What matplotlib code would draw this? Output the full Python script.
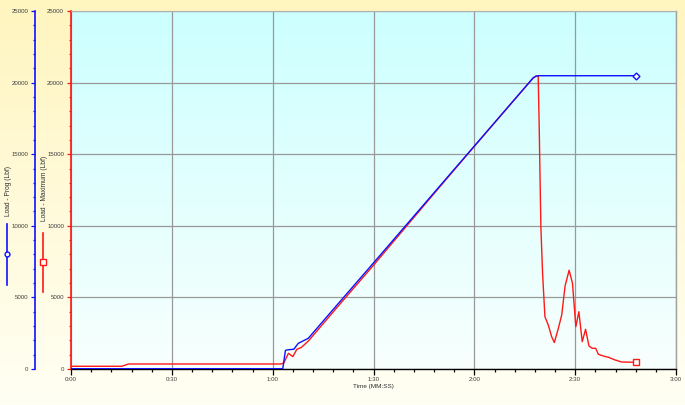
import matplotlib
matplotlib.use('Agg')
import matplotlib.pyplot as plt
import numpy as np
from matplotlib.colors import LinearSegmentedColormap
from matplotlib.ticker import MultipleLocator, FixedLocator, FixedFormatter
from matplotlib.lines import Line2D

plt.rcParams['font.family'] = ['Liberation Sans', 'DejaVu Sans']

# time in seconds, load in lbf
prog_t = [0, 63.0, 63.8, 64.5, 66.3, 67.6, 70.6, 80.0, 89.9, 99.9, 110.0,
          119.2, 127.8, 136.4, 137.5, 138.3, 139.0, 168.1]
prog_load = [20, 20, 1300, 1340, 1380, 1790, 2144, 4700, 7380, 10100, 12850,
             15350, 17690, 20030, 20330, 20450, 20480, 20480]

max_t = [0, 15.1, 17.1, 62.5, 63.3, 64.7, 66.0, 67.2, 68.5, 70.6, 80.0,
         89.9, 99.9, 110.0, 119.2, 127.8, 136.4, 137.5, 138.3, 139.0,
         139.3, 139.8, 140.3, 141.0, 142.0, 143.0, 143.8, 145.0, 146.0, 147.0,
         148.2, 149.2, 150.2, 151.1, 152.1, 153.1, 154.1, 155.1, 156.1, 156.9,
         158.4, 159.9, 161.9, 163.8, 168.0]
max_load = [190, 190, 350, 350, 420, 1096, 860, 1375, 1500, 1950, 4530,
            7220, 10000, 12800, 15330, 17680, 20020, 20320, 20440, 20470,
            16900, 9900, 6700, 3650, 3073, 2256, 1850, 2842, 3771, 5800,
            6900, 5985, 2954, 4001, 1907, 2772, 1606, 1446, 1446, 1027,
            908, 817, 628, 489, 468]

x_ticks = [0, 30, 60, 90, 120, 150, 180]
x_tick_labels = ['0:00', '0:30', '1:00', '1:30', '2:00', '2:30', '3:00']
y_ticks = [0, 5000, 10000, 15000, 20000, 25000]

BLUE = '#1010ff'
RED = '#ff1818'
W, H = 685, 405

fig = plt.figure(figsize=(W / 100, H / 100), dpi=100)

# figure background gradient (yellow)
bg = fig.add_axes([0, 0, 1, 1], zorder=-10)
bg_cmap = LinearSegmentedColormap.from_list('bg', ['#fff5bf', '#fffff4'])
bg.imshow(np.linspace(0, 1, 256).reshape(-1, 1), cmap=bg_cmap, aspect='auto',
          extent=[0, 1, 0, 1])
bg.set_axis_off()

left, right, top, bottom = 71, 676, 11, 369
ax = fig.add_axes([left / W, (H - bottom) / H, (right - left) / W, (bottom - top) / H])
ax.set_xlim(0, 180)
ax.set_ylim(0, 25000)

# plot area gradient (cyan)
pa_cmap = LinearSegmentedColormap.from_list('pa', ['#ccffff', '#f8fffd'])
ax.imshow(np.linspace(0, 1, 256).reshape(-1, 1), cmap=pa_cmap, aspect='auto',
          extent=[0, 180, 0, 25000], zorder=0)

ax.grid(True, which='major', color='#999999', linewidth=0.9, zorder=1)
ax.set_axisbelow(True)

ax.plot(max_t, max_load, color=RED, linewidth=1.0, zorder=4)
ax.plot(max_t[-1:], max_load[-1:], marker='s', markersize=4, mfc='white',
        mec=RED, mew=1.0, linestyle='none', zorder=5)

# x axis
ax.xaxis.set_major_locator(FixedLocator(x_ticks))
ax.xaxis.set_major_formatter(FixedFormatter(x_tick_labels))
ax.xaxis.set_minor_locator(MultipleLocator(6))
ax.tick_params(axis='x', which='major', direction='out', length=4.3, width=0.9,
               color='black', labelsize=4.4, labelcolor='#404040', pad=1.5)
ax.tick_params(axis='x', which='minor', direction='out', length=2.0, width=0.9,
               color='black')
ax.set_xlabel('Time (MM:SS)', fontsize=4.6, color='#303030', labelpad=1.5)

# red (maximum) axis
ax.yaxis.set_major_locator(FixedLocator(y_ticks))
ax.yaxis.set_minor_locator(MultipleLocator(1000))
ax.tick_params(axis='y', which='major', direction='out', length=3.2, width=0.9,
               color=RED, labelsize=4.4, labelcolor='#404040', pad=1.8)
ax.tick_params(axis='y', which='minor', direction='out', length=1.7, width=0.9,
               color=RED)
ax.spines['left'].set_color(RED)
ax.spines['left'].set_linewidth(1.2)
ax.spines['bottom'].set_color('black')
ax.spines['bottom'].set_linewidth(1.0)
ax.spines['top'].set_color('#b0b0b0')
ax.spines['top'].set_linewidth(0.8)
ax.spines['right'].set_color('#a0a0a0')
ax.spines['right'].set_linewidth(1.0)

# blue (prog) axis moved to the left
ax2 = ax.twinx()
ax2.set_ylim(0, 25000)
ax2.yaxis.tick_left()
ax2.yaxis.set_major_locator(FixedLocator(y_ticks))
ax2.yaxis.set_minor_locator(MultipleLocator(1000))
ax2.spines['left'].set_visible(True)
ax2.spines['left'].set_position(('outward', 35.5 * 0.72))
ax2.spines['left'].set_color(BLUE)
ax2.spines['left'].set_linewidth(1.2)
for s in ['right', 'top', 'bottom']:
    ax2.spines[s].set_visible(False)
ax2.tick_params(axis='y', which='major', direction='out', length=3.2, width=0.9,
                color=BLUE, labelsize=4.4, labelcolor='#404040', pad=1.8)
ax2.tick_params(axis='y', which='minor', direction='out', length=1.7, width=0.9,
                color=BLUE)

ax2.plot(prog_t, prog_load, color=BLUE, linewidth=1.0, zorder=3)
ax2.plot(prog_t[-1:], prog_load[-1:], marker='D', markersize=3.5, mfc='white',
         mec=BLUE, mew=1.0, linestyle='none', zorder=5)
ax.set_zorder(1)
ax2.set_zorder(2)

# axis titles with key markers
fig.text(9 / W, 1 - 191 / H, 'Load - Prog (Lbf)', rotation=90, fontsize=4.8,
         color='#303030', ha='center', va='center')
fig.text(44 / W, 1 - 188 / H, 'Load - Maximum (Lbf)', rotation=90, fontsize=4.8,
         color='#303030', ha='center', va='center')
fig.add_artist(Line2D([7 / W, 7 / W], [1 - 224 / H, 1 - 285 / H],
                      transform=fig.transFigure, color=BLUE, linewidth=1.2))
fig.add_artist(Line2D([7 / W], [1 - 254 / H], transform=fig.transFigure,
                      marker='o', markersize=3.5, mfc='white', mec=BLUE, mew=1.0))
fig.add_artist(Line2D([42.5 / W, 42.5 / W], [1 - 233 / H, 1 - 292 / H],
                      transform=fig.transFigure, color=RED, linewidth=1.2))
fig.add_artist(Line2D([42.5 / W], [1 - 262 / H], transform=fig.transFigure,
                      marker='s', markersize=4, mfc='white', mec=RED, mew=1.0))

fig.savefig('out.png', dpi=100)
